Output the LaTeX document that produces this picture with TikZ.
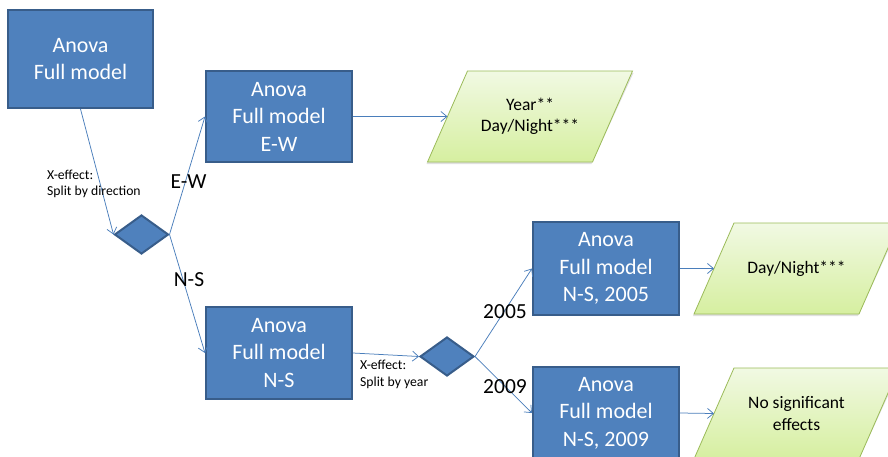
\documentclass[tikz,border=0pt]{standalone}
\usepackage{fontspec}
\setmainfont{Carlito}
\usetikzlibrary{shapes.geometric,arrows.meta}
\definecolor{boxfill}{HTML}{4F81BD}
\definecolor{boxline}{HTML}{385D8A}
\definecolor{arrowc}{HTML}{4A7EBB}
\definecolor{paraline}{HTML}{9BBB59}
\definecolor{paratop}{HTML}{F1F9E3}
\definecolor{parabot}{HTML}{D6EFA0}
\begin{document}
\begin{tikzpicture}[x=1pt,y=-1pt,
  bluebox/.style={rectangle, fill=boxfill, draw=boxline, line width=2pt, text=white,
    align=center, font=\fontsize{22}{27.5}\selectfont, inner sep=0pt},
  decision/.style={diamond, fill=boxfill, draw=boxline, line width=2pt,
    minimum width=54pt, minimum height=39pt, inner sep=0pt},
  parafill/.style={draw=paraline, line width=0.8pt, top color=paratop, bottom color=parabot},
  parashadow/.style={fill=black, opacity=0.12},
  paratext/.style={align=center, font=\fontsize{17.5}{21.5}\selectfont, inner sep=0pt},
  smalllabel/.style={align=left, inner sep=0pt, anchor=west, font=\fontsize{13.7}{16.5}\selectfont},
  biglabel/.style={inner sep=0pt, font=\fontsize{21.5}{24}\selectfont},
  conn/.style={draw=arrowc, line width=0.75pt, -{Straight Barb[length=6pt,width=10pt]}}]
\clip (0,0) rectangle (888,456);
\fill[white] (0,0) rectangle (888,456);

% blue boxes
\node[bluebox, minimum width=145pt, minimum height=98pt] (b1) at (80.5,59) {Anova\\Full model};
\node[bluebox, minimum width=146pt, minimum height=91pt] (b2) at (279,116.5) {Anova\\Full model\\E-W};
\node[bluebox, minimum width=146pt, minimum height=92pt] (b3) at (279,353) {Anova\\Full model\\N-S};
\node[bluebox, minimum width=146pt, minimum height=93pt] (b4) at (606,268.5) {Anova\\Full model\\N-S, 2005};
\node[bluebox, minimum width=146pt, minimum height=92pt] (b5) at (606,413) {Anova\\Full model\\N-S, 2009};

% decisions
\node[decision] (d1) at (141.5,234.5) {};
\node[decision] (d2) at (447,356.5) {};

% parallelograms
\foreach \c/\x/\y in {c1/530/116.5, c2/796.5/268.5, c3/796.5/413.5}{
  \coordinate (\c) at (\x,\y);
  \fill[parashadow] (\x,\y) ++(-61.5,-43.5) -- ++(165,0) -- ++(-42,91) -- ++(-165,0) -- cycle;
  \shade[parafill] (\x,\y) ++(-62.5,-45.5) -- ++(165,0) -- ++(-40,91) -- ++(-165,0) -- cycle;
  \path (\x,\y) ++(-82.5,0) coordinate (\c w);
}
\node[paratext] (p1) at (c1) {Year**\\Day/Night***};
\node[paratext] (p2) at (c2) {Day/Night***};
\node[paratext] (p3) at (c3) {No significant\\effects};

% connectors
\draw[conn] (b1.south) -- (d1.west);
\draw[conn] (d1.east) -- (b2.west);
\draw[conn] (d1.east) -- (b3.west);
\draw[conn] (b2.east) -- (c1w);
\draw[conn] (b3.east) -- (d2.west);
\draw[conn] (d2.east) -- (b4.west);
\draw[conn] (d2.east) -- (b5.west);
\draw[conn] (b4.east) -- (c2w);
\draw[conn] (b5.east) -- (c3w);

% labels
\node[smalllabel] (l1) at (47,184) {X-effect:\\Split by direction};
\node[smalllabel] (l2) at (360,374.5) {X-effect:\\Split by year};
\node[biglabel] (ew) at (188.5,182) {E-W};
\node[biglabel] (ns) at (189,280) {N-S};
\node[biglabel] (y5) at (505,312) {2005};
\node[biglabel] (y9) at (505,387) {2009};
\end{tikzpicture}
\end{document}
